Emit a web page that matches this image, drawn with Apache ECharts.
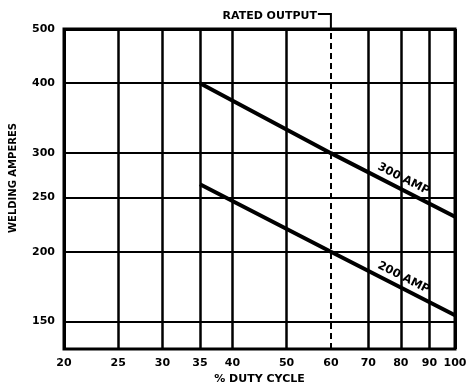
<!DOCTYPE html>
<html>
<head>
<meta charset="utf-8">
<script src="https://cdn.jsdelivr.net/npm/echarts@6/dist/echarts.min.js"></script>
<style>html,body{margin:0;padding:0;background:#fff}#c{width:469px;height:384px}</style>
</head>
<body>
<div id="c"></div>
<script>
// ---- data ----
const dutyTicks = [20, 25, 30, 35, 40, 50, 60, 70, 80, 90, 100];
const ampTicks = [150, 200, 250, 300, 400, 500];
const dutyCycle = [35, 60, 100];
const amp300 = [400, 300, 231];
const amp200 = [264, 200, 154];
const ratedDuty = 60;
const labelDuty = 80;

const FONT = '"DejaVu Sans", sans-serif';

function logInterp(xs, ys, x) {
  for (let i = 0; i < xs.length - 1; i++) {
    if (x >= xs[i] && x <= xs[i + 1]) {
      const t = (Math.log(x) - Math.log(xs[i])) / (Math.log(xs[i + 1]) - Math.log(xs[i]));
      return Math.exp(Math.log(ys[i]) + t * (Math.log(ys[i + 1]) - Math.log(ys[i])));
    }
  }
  return ys[ys.length - 1];
}

const chart = echarts.init(document.getElementById('c'), null, {renderer: 'canvas'});

const vLines = dutyTicks.map(v => ({
  xAxis: v,
  lineStyle: v === ratedDuty
    ? {color: '#000', width: 2, type: [6, 4]}
    : {color: '#000', width: (v === 20 || v === 100) ? 3 : 2.5, type: 'solid'},
  label: {show: true, position: 'start', distance: 9, formatter: String(v),
    color: '#000', fontFamily: FONT, fontWeight: 'bold', fontSize: 11}
}));
const hLines = ampTicks.map(v => ({
  yAxis: v,
  lineStyle: {color: '#000', width: v === 500 ? 3 : 2, type: 'solid'},
  label: {show: true, position: 'start', distance: 9, formatter: String(v),
    color: '#000', fontFamily: FONT, fontWeight: 'bold', fontSize: 11}
}));

function ampLabel(name, ys) {
  return {
    symbol: 'circle', symbolSize: 0, silent: true,
    itemStyle: {color: 'rgba(0,0,0,0)'},
    label: {show: true, position: 'inside', rotate: -27, offset: [-2, -10],
      formatter: name, color: '#000', fontFamily: FONT, fontWeight: 'bold', fontSize: 11.5},
    data: [{coord: [labelDuty, logInterp(dutyCycle, ys, labelDuty)]}]
  };
}

chart.setOption({
  animation: false,
  backgroundColor: '#fff',
  grid: {left: 64, right: 14, top: 29, bottom: 35, outerBoundsMode: 'none', containLabel: false,
    show: true, borderColor: '#000', borderWidth: 3, backgroundColor: 'transparent'},
  xAxis: {
    type: 'log', logBase: 10, min: 20, max: 100,
    name: '% DUTY CYCLE', nameLocation: 'middle', nameGap: 25,
    nameTextStyle: {color: '#000', fontFamily: FONT, fontWeight: 'bold', fontSize: 11},
    axisLine: {show: false}, axisTick: {show: false}, axisLabel: {show: false}, splitLine: {show: false}
  },
  yAxis: {
    type: 'log', logBase: 10, min: 134, max: 500,
    name: 'WELDING AMPERES', nameLocation: 'middle', nameGap: 46,
    nameTextStyle: {color: '#000', fontFamily: FONT, fontWeight: 'bold', fontSize: 10, padding: [0, 0, 0, 22]},
    axisLine: {show: false}, axisTick: {show: false}, axisLabel: {show: false}, splitLine: {show: false}
  },
  series: [
    {
      name: 'grid', type: 'line', data: [], silent: true, z: 1,
      markLine: {silent: true, symbol: ['none', 'none'], animation: false, data: vLines.concat(hLines)}
    },
    {
      name: '300 AMP', type: 'line', z: 5, symbol: 'none', silent: true,
      lineStyle: {color: '#000', width: 4},
      data: dutyCycle.map((d, i) => [d, amp300[i]]),
      markPoint: ampLabel('300 AMP', amp300)
    },
    {
      name: '200 AMP', type: 'line', z: 5, symbol: 'none', silent: true,
      lineStyle: {color: '#000', width: 4},
      data: dutyCycle.map((d, i) => [d, amp200[i]]),
      markPoint: ampLabel('200 AMP', amp200)
    }
  ]
});

const p = chart.convertToPixel({gridIndex: 0}, [ratedDuty, ampTicks[ampTicks.length - 1]]);
chart.setOption({
  graphic: [
    {type: 'polyline', silent: true,
      shape: {points: [[p[0] - 13, p[1] - 15], [p[0], p[1] - 15], [p[0], p[1]]]},
      style: {stroke: '#000', lineWidth: 2, fill: null}},
    {type: 'text', silent: true, x: p[0] - 14, y: p[1] - 13,
      style: {text: 'RATED OUTPUT', align: 'right', verticalAlign: 'middle',
        fill: '#000', font: 'bold 11px "DejaVu Sans", sans-serif'}}
  ]
});
</script>
</body>
</html>
